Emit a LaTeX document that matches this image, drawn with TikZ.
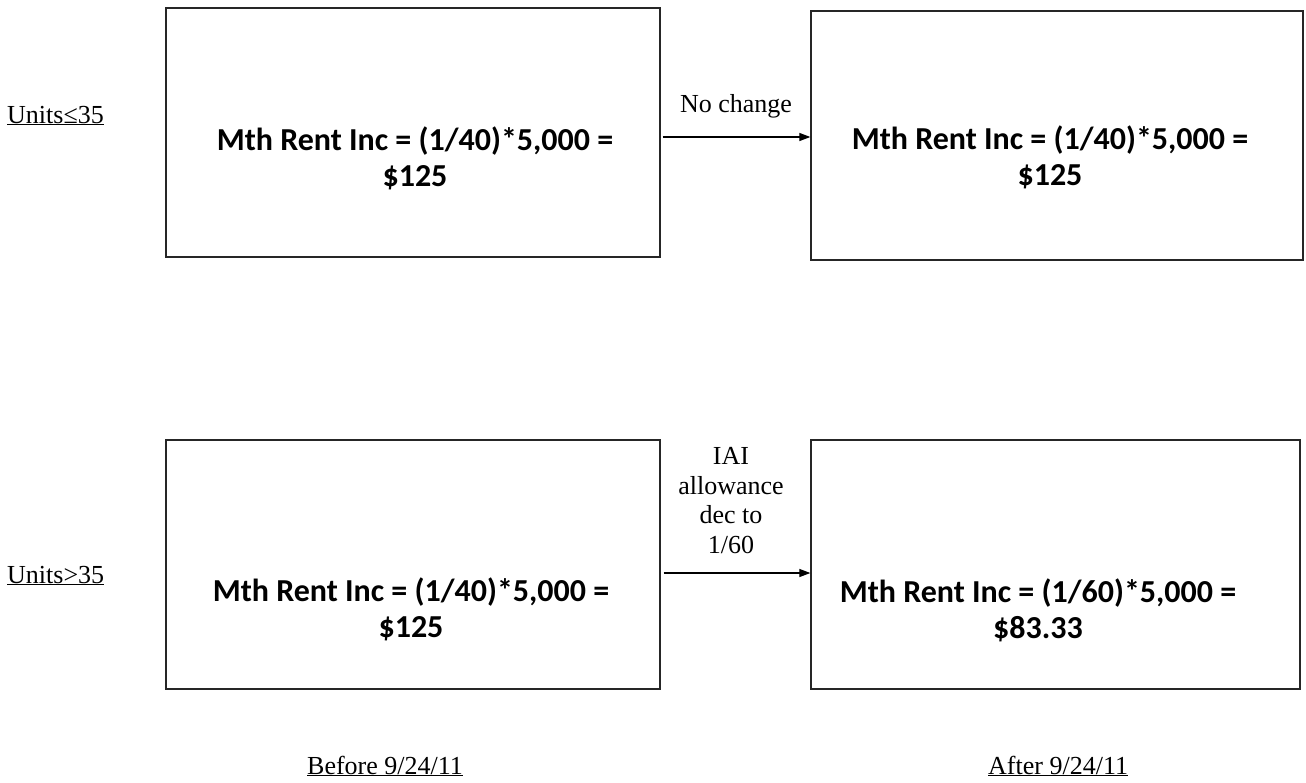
\documentclass[tikz,border=0pt]{standalone}
\usepackage{fontspec}
\setmainfont{Liberation Serif}
\newfontfamily\calibfont{Carlito}
\usetikzlibrary{arrows.meta}
\begin{document}
\begin{tikzpicture}[x=1pt,y=-1pt,
  box/.style={draw=black!85,line width=1.3pt,minimum width=#1,minimum height=249pt,inner sep=0pt},
  boxtext/.style={font=\calibfont\bfseries\fontsize{32}{36}\selectfont,align=center,inner sep=0pt},
  lab/.style={font=\fontsize{26}{29.5}\selectfont,inner sep=0pt},
  arr/.style={-{Triangle[length=11pt,width=8pt]},line width=1.2pt,draw=black}]
\useasboundingbox (0,0) rectangle (1306,782);
\node[box=494] (b1) at (413,132.5) {};
\node[box=492] (b2) at (1057,135.5) {};
\node[box=494] (b3) at (413,564.5) {};
\node[box=489] (b4) at (1055.5,564.5) {};
\node[boxtext,anchor=base] (t1) at (415,186) {Mth Rent Inc = (1/40)*5,000 =\\\$125};
\node[boxtext,anchor=base] (t2) at (1050,185) {Mth Rent Inc = (1/40)*5,000 =\\\$125};
\node[boxtext,anchor=base] (t3) at (411,637) {Mth Rent Inc = (1/40)*5,000 =\\\$125};
\node[boxtext,anchor=base] (t4) at (1038,638) {Mth Rent Inc = (1/60)*5,000 =\\\$83.33};
\node[lab,anchor=base west] (u1) at (7,123) {\underline{Units≤35}};
\node[lab,anchor=base west] (u2) at (7,583) {\underline{Units>35}};
\node[lab,anchor=base] (nc) at (736,112) {No change};
\node[lab,anchor=base,align=center] (iai) at (731,553) {IAI\\allowance\\dec to\\1/60};
\node[lab,anchor=base west] (bf) at (307,774) {\underline{Before 9/24/11}};
\node[lab,anchor=base west] (af) at (988,774) {\underline{After 9/24/11}};
\coordinate (s1) at ([shift={(2,4.5)}]b1.east);
\coordinate (s2) at ([shift={(3,8.5)}]b3.east);
\draw[arr] (s1) -- (s1 -| b2.west);
\draw[arr] (s2) -- (s2 -| b4.west);
\end{tikzpicture}
\end{document}
